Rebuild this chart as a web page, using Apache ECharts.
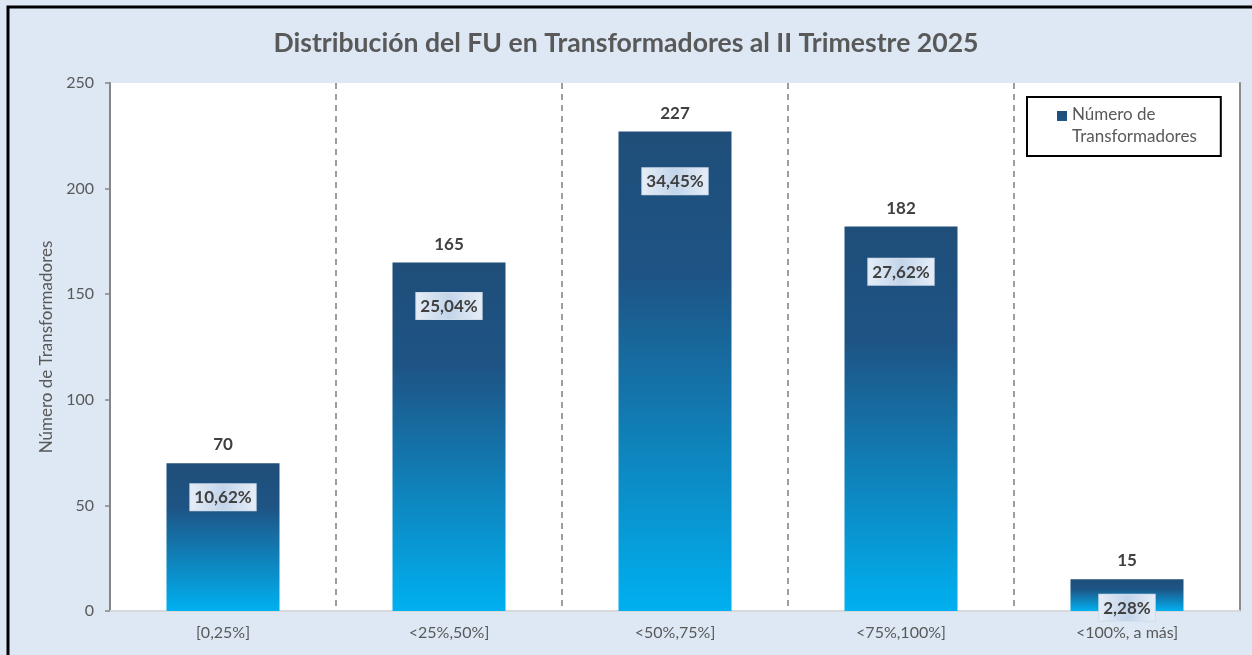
<!DOCTYPE html>
<html>
    <head>
        <meta charset="utf-8">
        <script src="https://cdn.jsdelivr.net/npm/echarts@6/dist/echarts.min.js"></script>
    </head>
    <body style="margin:0">
        <style>
            html, body, #main {
                width: 1252px;
                height: 655px;
                margin: 0;
            }
        </style>
        <div id="main"></div>
        <script>
            var categories = ['[0,25%]', '<25%,50%]', '<50%,75%]', '<75%,100%]', '<100%, a más]'];
            var counts = [70, 165, 227, 182, 15];
            var shares = ['10,62%', '25,04%', '34,45%', '27,62%', '2,28%'];

            var font = 'Lato';
            var grey = '#595959';

            var chart = echarts.init(document.getElementById('main'));

            var barColor = new echarts.graphic.LinearGradient(0, 0, 0, 1, [
                { offset: 0, color: '#1f4e79' },
                { offset: 0.3, color: '#1e5485' },
                { offset: 1, color: '#00b0f0' }
            ]);

            chart.setOption({
                backgroundColor: '#dde8f4',
                textStyle: { fontFamily: font },
                title: {
                    text: 'Distribución del FU en Transformadores al II Trimestre 2025',
                    left: 'center',
                    top: 25,
                    textStyle: { fontSize: 26.6, fontWeight: 'bold', color: grey, fontFamily: font }
                },
                graphic: [
                    // outer frame (top and left edges are visible in the picture)
                    { type: 'rect', shape: { x: 8, y: 7, width: 1260, height: 660 },
                      style: { fill: 'none', stroke: '#000', lineWidth: 3 }, silent: true },
                    // white plot area
                    { type: 'rect', z: -1, shape: { x: 110, y: 83, width: 1130, height: 528 },
                      style: { fill: '#ffffff' }, silent: true }
                ],
                legend: {
                    data: ['Número de\nTransformadores'],
                    left: 1027,
                    top: 97,
                    orient: 'vertical',
                    backgroundColor: '#ffffff',
                    borderColor: '#000000',
                    borderWidth: 2,
                    padding: [7, 24, 8, 30],
                    icon: 'path://M0,0h10v10h-10zM0,30h10',
                    itemWidth: 10,
                    itemHeight: 30,
                    itemGap: 4,
                    textStyle: { fontSize: 17, color: grey, lineHeight: 22, fontFamily: font }
                },
                grid: { left: 110, right: 12, top: 83, bottom: 44 },
                xAxis: {
                    type: 'category',
                    data: categories,
                    axisLine: { lineStyle: { color: '#d9d9d9', width: 2 } },
                    axisTick: { show: false },
                    axisLabel: { fontSize: 16, color: grey, margin: 14, fontFamily: font },
                    splitLine: {
                        show: true,
                        lineStyle: { color: '#7f7f7f', type: [6, 5], width: 1.5 }
                    }
                },
                yAxis: [{
                    type: 'value',
                    min: 0,
                    max: 250,
                    interval: 50,
                    name: 'Número de Transformadores',
                    nameLocation: 'middle',
                    nameGap: 55,
                    nameTextStyle: { fontSize: 17, color: grey, fontFamily: font },
                    axisLine: { show: true, lineStyle: { color: '#868686', width: 2 } },
                    axisTick: { show: true, inside: false, length: 5, lineStyle: { color: '#868686', width: 1.5 } },
                    axisLabel: { fontSize: 16, color: grey, margin: 16, fontFamily: font },
                    splitLine: { show: false }
                }, {
                    type: 'value',
                    position: 'right',
                    min: 0,
                    max: 250,
                    interval: 50,
                    axisLine: { show: true, lineStyle: { color: '#8c8c8c', width: 2 } },
                    axisTick: { show: false },
                    axisLabel: { show: false },
                    splitLine: { show: false }
                }],
                series: [{
                    name: 'Número de\nTransformadores',
                    type: 'bar',
                    barWidth: '50%',
                    data: counts,
                    itemStyle: { color: barColor },
                    label: {
                        show: true,
                        position: 'top',
                        distance: 10,
                        fontSize: 17,
                        fontWeight: 'bold',
                        color: '#404040',
                        fontFamily: font
                    },
                    z: 2
                }, {
                    name: 'share',
                    type: 'bar',
                    barWidth: '50%',
                    barGap: '-100%',
                    silent: true,
                    itemStyle: { color: 'rgba(0,0,0,0)' },
                    data: counts.map(function (v, i) {
                        return {
                            value: v,
                            label: { distance: 14 + v * 0.1 }
                        };
                    }),
                    label: {
                        show: true,
                        position: 'insideTop',
                        formatter: function (p) { return shares[p.dataIndex]; },
                        fontSize: 17,
                        fontWeight: 'bold',
                        color: '#404040',
                        fontFamily: font,
                        backgroundColor: new echarts.graphic.LinearGradient(0, 0, 1, 0, [
                            { offset: 0, color: '#e6eef8' },
                            { offset: 0.5, color: '#c3d5ea' },
                            { offset: 1, color: '#e6eef8' }
                        ]),
                        borderColor: '#d0dcea',
                        borderWidth: 1,
                        padding: [5, 4, 4, 4]
                    },
                    z: 3
                }]
            });
        </script>
    </body>
</html>
